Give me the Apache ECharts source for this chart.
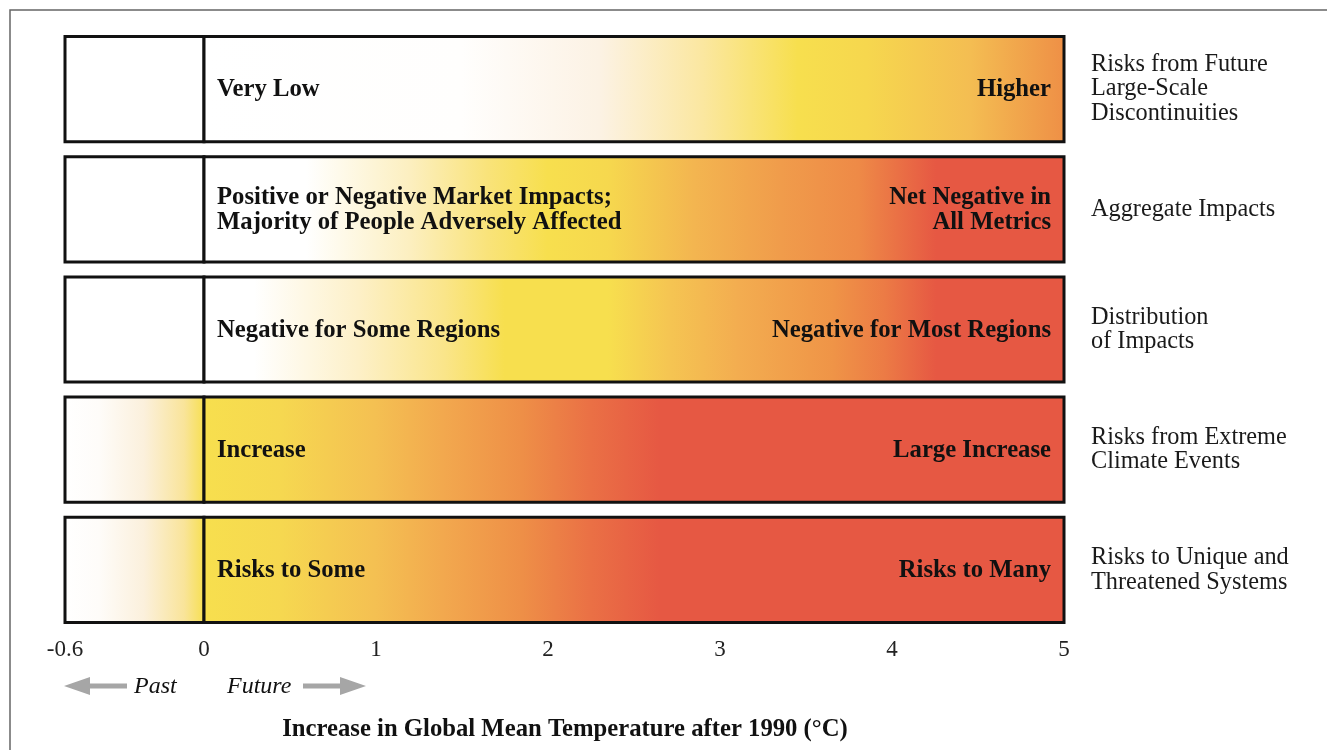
<!DOCTYPE html>
<html>
<head>
<meta charset="utf-8">
<script src="https://cdn.jsdelivr.net/npm/echarts@6/dist/echarts.min.js"></script>
<style>html,body{margin:0;padding:0;background:#fff}#c{width:1327px;height:750px}</style>
</head>
<body>
<div id="c"></div>
<script>
// ---- data ----
const categories = [
  'Risks from Future\nLarge-Scale\nDiscontinuities',
  'Aggregate Impacts',
  'Distribution\nof Impacts',
  'Risks from Extreme\nClimate Events',
  'Risks to Unique and\nThreatened Systems'
];
const lowLabels = [
  'Very Low',
  'Positive or Negative Market Impacts;\nMajority of People Adversely Affected',
  'Negative for Some Regions',
  'Increase',
  'Risks to Some'
];
const highLabels = [
  'Higher',
  'Net Negative in\nAll Metrics',
  'Negative for Most Regions',
  'Large Increase',
  'Risks to Many'
];
const pastRange = [-0.6, 0];
const futureRange = [0, 5];
const futureTicks = [0, 1, 2, 3, 4, 5];
// colour stops: [temperature (°C), colour]
const pastStops = [
  [[-0.6, '#ffffff'], [0, '#ffffff']],
  [[-0.6, '#ffffff'], [0, '#ffffff']],
  [[-0.6, '#ffffff'], [0, '#ffffff']],
  [[-0.6, '#ffffff'], [-0.45, '#fefcf9'], [-0.26, '#fbf0dc'], [-0.09, '#f9e49a'], [0, '#f7df4e']],
  [[-0.6, '#ffffff'], [-0.45, '#fefcf9'], [-0.26, '#fbf0dc'], [-0.09, '#f9e49a'], [0, '#f7df4e']]
];
const futureStops = [
  [[0, '#ffffff'], [1.5, '#fffefd'], [2.3, '#fcf2e4'], [2.9, '#fbe7a0'], [3.45, '#f7df4e'], [3.85, '#f6d74e'], [4.45, '#f4bd52'], [5, '#ee8f46']],
  [[0, '#ffffff'], [0.6, '#ffffff'], [1.2, '#fcefc0'], [1.65, '#f9e37a'], [2.0, '#f7df4e'], [2.35, '#f6d84e'], [2.85, '#f3b550'], [3.35, '#f09c4b'], [3.8, '#ee8a47'], [4.25, '#e65843'], [5, '#e65843']],
  [[0, '#ffffff'], [0.3, '#ffffff'], [0.9, '#fdf0c8'], [1.4, '#fae58a'], [1.75, '#f7df4e'], [2.35, '#f7df4e'], [2.7, '#f5c552'], [3.1, '#f3ad50'], [3.65, '#ef9447'], [3.95, '#ec7b45'], [4.25, '#e65843'], [5, '#e65843']],
  [[0, '#f7df4e'], [0.45, '#f6d850'], [1.0, '#f4c052'], [1.4, '#f2a84e'], [1.85, '#ee8f47'], [2.25, '#ea7045'], [2.65, '#e65843'], [5, '#e65843']],
  [[0, '#f7df4e'], [0.45, '#f6d850'], [1.0, '#f4c052'], [1.4, '#f2a84e'], [1.85, '#ee8f47'], [2.25, '#ea7045'], [2.65, '#e65843'], [5, '#e65843']]
];
const xTitle = 'Increase in Global Mean Temperature after 1990 (°C)';
const pastText = 'Past';
const futureText = 'Future';

// ---- chart ----
const chart = echarts.init(document.getElementById('c'));
const serif = '"Liberation Serif", "DejaVu Serif", serif';

function makeRender(stopsArr, withText) {
  return function (params, api) {
    const i = api.value(2);
    const a = api.value(0), b = api.value(1);
    const p0 = api.coord([a, i]);
    const p1 = api.coord([b, i]);
    const h = api.size([0, 1])[1] * 0.875;
    const stops = stopsArr[i].map(s => ({ offset: (s[0] - a) / (b - a), color: s[1] }));
    const children = [{
      type: 'rect',
      shape: { x: p0[0], y: p0[1] - h / 2, width: p1[0] - p0[0], height: h },
      style: { fill: new echarts.graphic.LinearGradient(0, 0, 1, 0, stops), stroke: '#111', lineWidth: 3 }
    }];
    if (withText) {
      const font = 'bold 24.7px ' + serif;
      children.push({
        type: 'text', x: p0[0] + 13, y: p0[1] + 1,
        style: { text: lowLabels[i], font: font, fill: '#111', textAlign: 'left', textVerticalAlign: 'middle', lineHeight: 25 }
      });
      children.push({
        type: 'text', x: p1[0] - 13, y: p1[1] + 1,
        style: { text: highLabels[i], font: font, fill: '#111', textAlign: 'right', textVerticalAlign: 'middle', lineHeight: 25 }
      });
    }
    return { type: 'group', children: children };
  };
}

const pastData = categories.map((c, i) => [pastRange[0], pastRange[1], i]);
const futureData = categories.map((c, i) => [futureRange[0], futureRange[1], i]);

const axisLabelStyle = { fontFamily: serif, fontSize: 23, color: '#222', margin: 8 };

chart.setOption({
  animation: false,
  backgroundColor: '#ffffff',
  grid: [
    { left: 65, width: 139, top: 29, height: 601 },
    { left: 204, width: 860, top: 29, height: 601 }
  ],
  xAxis: [
    {
      gridIndex: 0, type: 'value', min: pastRange[0], max: pastRange[1], interval: 0.6,
      axisLine: { show: false }, axisTick: { show: false }, splitLine: { show: false },
      axisLabel: Object.assign({}, axisLabelStyle, { showMaxLabel: false, formatter: v => String(v) })
    },
    {
      gridIndex: 1, type: 'value', min: futureRange[0], max: futureRange[1], interval: 1,
      axisLine: { show: false }, axisTick: { show: false }, splitLine: { show: false },
      axisLabel: Object.assign({}, axisLabelStyle, { customValues: futureTicks })
    }
  ],
  yAxis: [
    { gridIndex: 0, type: 'category', data: categories, inverse: true, show: false },
    {
      gridIndex: 1, type: 'category', data: categories, inverse: true, position: 'right',
      axisLine: { show: false }, axisTick: { show: false }, splitLine: { show: false },
      axisLabel: { fontFamily: serif, fontSize: 24.3, color: '#1a1a1a', lineHeight: 24.5, margin: 27, align: 'left' }
    }
  ],
  series: [
    {
      type: 'custom', xAxisIndex: 0, yAxisIndex: 0, encode: { x: [0, 1], y: 2 },
      renderItem: makeRender(pastStops, false), data: pastData
    },
    {
      type: 'custom', xAxisIndex: 1, yAxisIndex: 1, encode: { x: [0, 1], y: 2 },
      renderItem: makeRender(futureStops, true), data: futureData
    }
  ],
  graphic: [
    { type: 'rect', shape: { x: 10, y: 10, width: 1400, height: 800 }, style: { fill: 'none', stroke: '#666', lineWidth: 1.5 }, silent: true },
    { type: 'polygon', shape: { points: [[64, 686], [90, 677], [90, 683.5], [127, 683.5], [127, 688.5], [90, 688.5], [90, 695]] }, style: { fill: '#a6a6a6' } },
    { type: 'polygon', shape: { points: [[366, 686], [340, 677], [340, 683.5], [303, 683.5], [303, 688.5], [340, 688.5], [340, 695]] }, style: { fill: '#a6a6a6' } },
    { type: 'text', x: 134, y: 687, style: { text: pastText, font: 'italic 24px ' + serif, fill: '#111', textVerticalAlign: 'middle' } },
    { type: 'text', x: 227, y: 687, style: { text: futureText, font: 'italic 24px ' + serif, fill: '#111', textVerticalAlign: 'middle' } },
    { type: 'text', x: 565, y: 730, style: { text: xTitle, font: 'bold 24.7px ' + serif, fill: '#111', textAlign: 'center', textVerticalAlign: 'middle' } }
  ]
});
</script>
</body>
</html>
